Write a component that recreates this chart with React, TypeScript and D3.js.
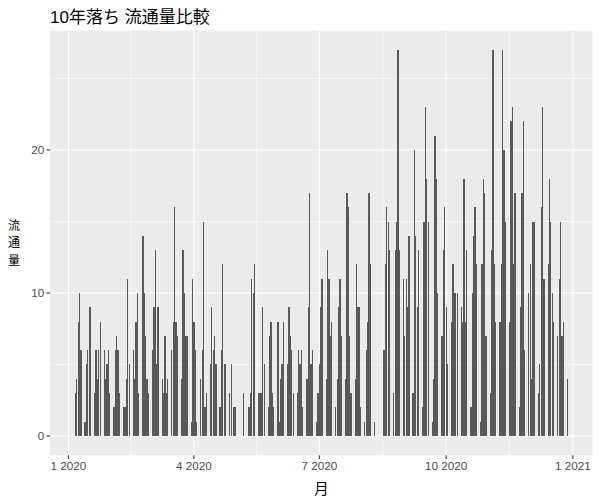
import React from 'react';
import * as d3 from 'd3';

const titleText = '10年落ち 流通量比較';
const xTitle = '月';
const yTitleChars = ['流', '通', '量'];

// values for each weekday (Mon-Fri) of each month of 2020, null = no data
const jan = [null, null, null, 3, 4, 8, 10, 6, 1, 5, 6, 9, 9, 3, 6, 4, 6, 8, 6, 4, 5, 6, 3];
const feb = [2, 6, 7, 6, 3, 2, 2, 4, 11, 5, 6, 4, 8, 10, 3, 14, 10, 7, 4, 3];
const mar = [6, 9, 13, 5, 9, 4, 3, 7, 3, 4, 6, 8, 16, 8, 7, 4, 13, 10, 7, 7, 1, 11];
const apr = [8, 6, 1, 4, 6, 15, 2, 3, 5, 9, 6, 7, 5, 2, 6, 12, 5, 5, 3, 5, null, 2];
const may = [2, null, null, null, 3, null, 2, 3, 11, 10, 12, 3, 3, 3, 9, 5, 2, 7, 8, 3, 2];
const jun = [8, 1, 4, 5, 8, 5, 9, 7, 6, 3, 3, 6, 5, 6, 2, 4, 9, 17, 5, 6, 1, 3];
const jul = [5, 9, 11, 4, 13, 11, 7, 8, 2, 4, 9, 11, 7, 4, 17, 16, 7, 3, 4, 12, 9, 9, 2];
const aug = [1, 6, 8, 17, 12, 1, null, null, null, null, 6, 12, 16, 15, 13, 3, 13, 15, 27, 13, 11];
const sep = [7, 11, 9, 14, 3, 20, 14, 9, 13, 2, 15, 23, 18, 15, 1, 4, 21, 18, 10, 7, 13, 16];
const oct = [9, 5, 8, 12, 10, 10, 10, 9, 8, 18, 8, 13, 2, 10, 14, 16, 12, 1, 12, 18, 17, 7];
const nov = [3, 13, 27, 12, 8, 8, 12, 27, 20, 15, 8, 22, 23, 12, 17, 2, 9, 17, 22, 6, 10];
const dec = [12, 4, 15, 15, 3, 5, 16, 23, 11, 12, 18, 15, 10, 8, 7, 11, 15, 7, 8, 4, null, null, null];
const monthValues = [jan, feb, mar, apr, may, jun, jul, aug, sep, oct, nov, dec];

const xTickDates = ['2020-01-01', '2020-04-01', '2020-07-01', '2020-10-01', '2021-01-01'];
const xTickLabels = ['1 2020', '4 2020', '7 2020', '10 2020', '1 2021'];
const yTicks = [0, 10, 20];

type Row = { date: Date; value: number };

function buildData(): Row[] {
  const out: Row[] = [];
  monthValues.forEach((vals, m) => {
    const n = new Date(Date.UTC(2020, m + 1, 0)).getUTCDate();
    let i = 0;
    for (let day = 1; day <= n; day++) {
      const dt = new Date(Date.UTC(2020, m, day));
      const wd = dt.getUTCDay();
      if (wd === 0 || wd === 6) continue;
      const v = vals[i++];
      if (v !== null && v !== undefined) out.push({ date: dt, value: v });
    }
  });
  return out;
}

const W = 600;
const H = 500;
const L = 50.1;
const R = 592.7;
const T = 30.6;
const B = 455.3;
const DAY = 86400000;

export default function App() {
  const data = buildData();
  const tMin = d3.min(data, (d) => d.date.getTime())!;
  const tMax = d3.max(data, (d) => d.date.getTime())!;
  const lo = tMin - 0.45 * DAY;
  const hi = tMax + 0.45 * DAY;
  const ex = (hi - lo) * 0.05;
  const x = d3.scaleUtc().domain([new Date(lo - ex), new Date(hi + ex)]).range([L, R]);
  const vMax = d3.max(data, (d) => d.value)!;
  const y = d3.scaleLinear().domain([-0.05 * vMax, vMax * 1.05]).range([B, T]);

  const majorX = xTickDates.map((s) => new Date(s + 'T00:00:00Z'));
  const minorX: Date[] = [];
  for (let i = 0; i < majorX.length - 1; i++) {
    minorX.push(new Date((majorX[i].getTime() + majorX[i + 1].getTime()) / 2));
  }
  const minorY = [5, 15, 25];

  const fontLat = "'Liberation Sans', Arial, sans-serif";
  const fontTitle = "'Liberation Sans', 'Noto Sans CJK JP', sans-serif";
  const fontCJK = "'Noto Sans CJK JP', sans-serif";
  const yMid = (T + B) / 2;
  const yStep = 17.5;

  return (
    <svg width={W} height={H} style={{ position: 'absolute', left: 0, top: 0, display: 'block', background: '#fff' }}>
      <rect x={L} y={T} width={R - L} height={B - T} fill="#EBEBEB" />
      {minorX.map((d, i) => (
        <line key={'mx' + i} x1={x(d)} x2={x(d)} y1={T} y2={B} stroke="#fff" strokeWidth={0.53} />
      ))}
      {minorY.map((v, i) => (
        <line key={'my' + i} x1={L} x2={R} y1={y(v)} y2={y(v)} stroke="#fff" strokeWidth={0.53} />
      ))}
      {majorX.map((d, i) => (
        <line key={'Mx' + i} x1={x(d)} x2={x(d)} y1={T} y2={B} stroke="#fff" strokeWidth={1.07} />
      ))}
      {yTicks.map((v, i) => (
        <line key={'My' + i} x1={L} x2={R} y1={y(v)} y2={y(v)} stroke="#fff" strokeWidth={1.07} />
      ))}
      <g shapeRendering="crispEdges">
        {data.map((d, i) => {
          const x0 = x(new Date(d.date.getTime() - 0.45 * DAY));
          const x1 = x(new Date(d.date.getTime() + 0.45 * DAY));
          return (
            <rect key={'b' + i} x={x0} y={y(d.value)} width={x1 - x0} height={y(0) - y(d.value)} fill="#595959" />
          );
        })}
      </g>
      {majorX.map((d, i) => (
        <g key={'xt' + i}>
          <line x1={x(d)} x2={x(d)} y1={B} y2={B + 3.67} stroke="#333" strokeWidth={1.07} />
          <text x={x(d)} y={B + 15} textAnchor="middle" fontFamily={fontLat} fontSize={11.7} fill="#4D4D4D">
            {xTickLabels[i]}
          </text>
        </g>
      ))}
      {yTicks.map((v, i) => (
        <g key={'yt' + i}>
          <line x1={L - 3.67} x2={L} y1={y(v)} y2={y(v)} stroke="#333" strokeWidth={1.07} />
          <text x={L - 5.9} y={y(v) + 4} textAnchor="end" fontFamily={fontLat} fontSize={11.7} fill="#4D4D4D">
            {v}
          </text>
        </g>
      ))}
      <text x={(L + R) / 2} y={494} textAnchor="middle" fontFamily={fontCJK} fontSize={14.7} fill="#000">
        {xTitle}
      </text>
      {yTitleChars.map((c, i) => (
        <text key={'yc' + i} x={14} y={yMid + 4.5 + (i - 1) * yStep} textAnchor="middle" fontFamily={fontCJK} fontSize={12} fill="#000">
          {c}
        </text>
      ))}
      <text x={L} y={23} fontFamily={fontTitle} fontSize={17} fill="#000">
        {titleText}
      </text>
    </svg>
  );
}
